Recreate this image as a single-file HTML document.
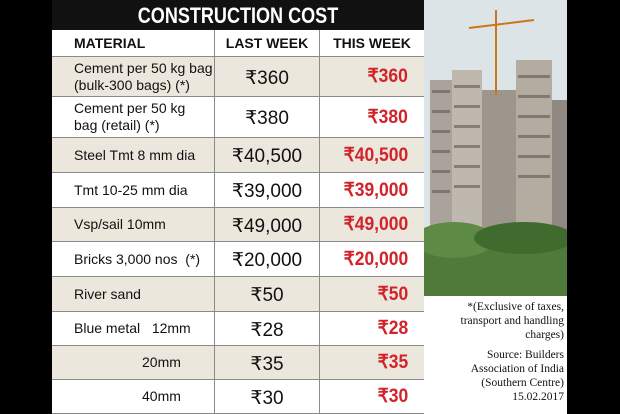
<!DOCTYPE html>
<html><head><meta charset="utf-8"><style>
body{margin:0;width:620px;height:414px;background:#000;overflow:hidden;font-family:"Liberation Sans",sans-serif;position:relative}
#wrap{position:absolute;left:52px;top:0;width:515px;height:414px;background:#fff}
.title{position:absolute;left:0;top:0;width:372px;height:30px;background:#111;color:#fff;font-weight:bold;font-size:22px;line-height:32px}
.title span{display:block;text-align:center;transform:scaleX(0.82)}
.row{position:absolute;left:0;width:372px;border-bottom:1px solid #8a8a8a;box-sizing:border-box}
.c{position:absolute;top:0;height:100%;display:flex;align-items:center;box-sizing:border-box}
.m{left:0;width:162px;padding-left:22px;font-size:14px;line-height:17px;color:#111}
.l{left:162px;width:105px;justify-content:center;font-size:19px;color:#111;border-left:1px solid #8a8a8a;padding-top:3px}
.t{left:267px;width:105px;justify-content:flex-end;padding-right:16px;font-size:19px;font-weight:bold;color:#d2232a;border-left:1px solid #8a8a8a}
.t span{display:inline-block;transform:scaleX(0.92);transform-origin:right}
.hd .c{font-weight:bold;font-size:14px;color:#111;padding-top:0}
.hd .t{color:#111;justify-content:center;padding-right:0}
.b{background:#ece7dc}
#photo{position:absolute;left:372px;top:0;width:143px;height:296px}
#note{position:absolute;left:372px;top:300px;width:140px;text-align:right;font-family:"Liberation Serif",serif;font-size:11.5px;line-height:14px;color:#111}
</style></head><body>
<div id="wrap">
<div class="title"><span>CONSTRUCTION COST</span></div>
<div class="row hd" style="top:30px;height:27px">
<div class="c m" style="font-weight:bold">MATERIAL</div><div class="c l">LAST WEEK</div><div class="c t">THIS WEEK</div></div>
<div id="rows"></div>
<svg id="photo" viewBox="0 0 143 296">
<rect x="0" y="0" width="143" height="296" fill="#dde4e8"/>
<rect x="6" y="80" width="22" height="180" fill="#a9a39b"/>
<rect x="28" y="70" width="30" height="190" fill="#bfb8ae"/>
<rect x="58" y="90" width="34" height="170" fill="#9d968d"/>
<rect x="92" y="60" width="36" height="200" fill="#b4aca1"/>
<rect x="128" y="100" width="15" height="160" fill="#8f8982"/>
<g fill="#5e5a55" opacity="0.6">
<rect x="8" y="90" width="18" height="3"/><rect x="8" y="110" width="18" height="3"/><rect x="8" y="130" width="18" height="3"/><rect x="8" y="150" width="18" height="3"/><rect x="8" y="170" width="18" height="3"/><rect x="8" y="190" width="18" height="3"/>
<rect x="30" y="85" width="26" height="3"/><rect x="30" y="105" width="26" height="3"/><rect x="30" y="125" width="26" height="3"/><rect x="30" y="145" width="26" height="3"/><rect x="30" y="165" width="26" height="3"/><rect x="30" y="185" width="26" height="3"/>
<rect x="94" y="75" width="32" height="3"/><rect x="94" y="95" width="32" height="3"/><rect x="94" y="115" width="32" height="3"/><rect x="94" y="135" width="32" height="3"/><rect x="94" y="155" width="32" height="3"/><rect x="94" y="175" width="32" height="3"/>
</g>
<line x1="72" y1="10" x2="72" y2="95" stroke="#c8781a" stroke-width="2"/>
<line x1="45" y1="28" x2="110" y2="20" stroke="#c8781a" stroke-width="2"/>
<rect x="0" y="235" width="143" height="61" fill="#4f7a3a"/>
<ellipse cx="30" cy="240" rx="40" ry="18" fill="#5d8a45"/><ellipse cx="100" cy="238" rx="50" ry="16" fill="#3f6b2e"/>
</svg>
<div id="note">*(Exclusive of taxes,<br>transport and handling<br>charges)<div style="height:6px"></div>Source: Builders<br>Association of India<br>(Southern Centre)<br>15.02.2017</div>
</div>
<script>
const materials=["Cement per 50 kg bag<br>(bulk-300 bags) (*)","Cement per 50 kg<br>bag (retail) (*)","Steel Tmt 8 mm dia","Tmt 10-25 mm dia","Vsp/sail 10mm","Bricks 3,000 nos &nbsp;(*)","River sand","Blue metal &nbsp;&nbsp;12mm","<span style='padding-left:68px'>20mm</span>","<span style='padding-left:68px'>40mm</span>"];
const lastWeek=["₹360","₹380","₹40,500","₹39,000","₹49,000","₹20,000","₹50","₹28","₹35","₹30"];
const thisWeek=["₹360","₹380","₹40,500","₹39,000","₹49,000","₹20,000","₹50","₹28","₹35","₹30"];
const edges=[57,97,138,173,208,242,277,312,346,380,414];
const rows=document.getElementById('rows');
materials.forEach((m,i)=>{
 const r=document.createElement('div');
 r.className='row'+(i%2===0?' b':'');
 r.style.top=edges[i]+'px';r.style.height=(edges[i+1]-edges[i])+'px';
 
 
 r.innerHTML='<div class="c m">'+m+'</div><div class="c l">'+lastWeek[i]+'</div><div class="c t"><span>'+thisWeek[i]+'</span></div>';
 rows.appendChild(r);
});
</script>
</body></html>
